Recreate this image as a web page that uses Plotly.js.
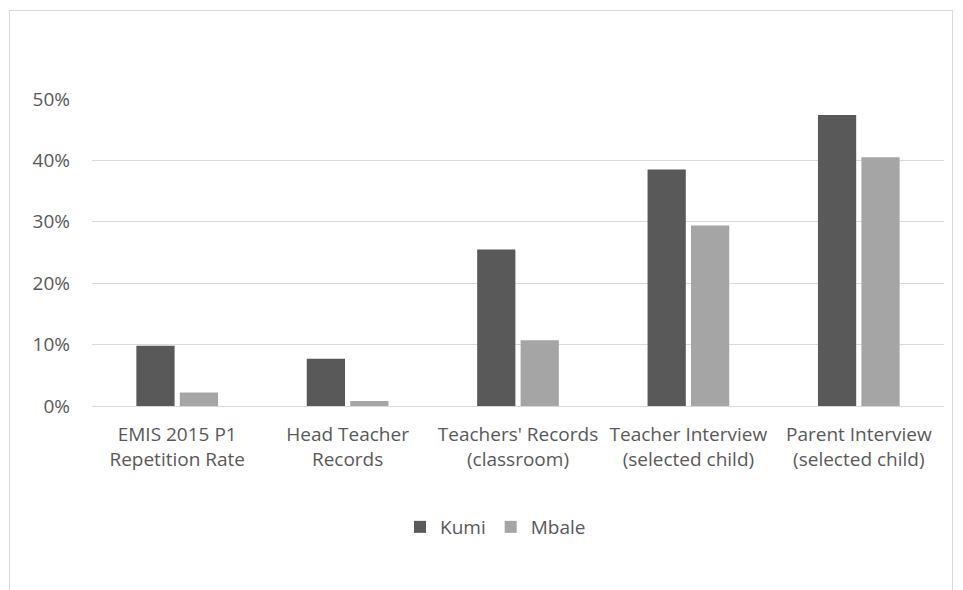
<!DOCTYPE html>
<html>
<head>
<meta charset="utf-8">
<script src="https://cdn.plot.ly/plotly-3.0.1.min.js"></script>
<style>
html,body{margin:0;padding:0;background:#fff;}
#chart{position:absolute;left:0;top:0;width:963px;height:590px;}
#frame{position:absolute;left:9px;top:10px;width:942px;height:600px;border:1px solid #d9d9d9;pointer-events:none;}
</style>
</head>
<body>
<div id="chart"></div>
<div id="frame"></div>
<script>
var categories = [
  "EMIS 2015 P1<br>Repetition Rate",
  "Head Teacher<br>Records",
  "Teachers' Records<br>(classroom)",
  "Teacher Interview<br>(selected child)",
  "Parent Interview<br>(selected child)"
];
var kumi = [0.098, 0.077, 0.255, 0.385, 0.474];
var mbale = [0.022, 0.008, 0.107, 0.294, 0.405];
var tickVals = [0, 0.1, 0.2, 0.3, 0.4, 0.5];
var tickText = ["0%", "10%", "20%", "30%", "40%", "50%"];

var font = "'Open Sans', Lato, sans-serif";
var traces = [
  {type: "bar", name: "Kumi", x: categories, y: kumi, marker: {color: "#595959"}, hoverinfo: "none"},
  {type: "bar", name: "Mbale", x: categories, y: mbale, marker: {color: "#a5a5a5"}, hoverinfo: "none"}
];
var layout = {
  width: 963, height: 590,
  margin: {l: 92, r: 19, t: 99, b: 184},
  paper_bgcolor: "rgba(0,0,0,0)",
  plot_bgcolor: "rgba(0,0,0,0)",
  font: {family: font, size: 19, color: "#595959"},
  barmode: "group",
  bargap: 0.49,
  bargroupgap: 0.12,
  showlegend: true,
  legend: {orientation: "h", x: 400/963, xref: "container", xanchor: "left", y: 1 - 527/590, yref: "container", yanchor: "middle", font: {size: 19, color: "#595959"}, itemwidth: 30, traceorder: "normal", bgcolor: "rgba(0,0,0,0)"},
  xaxis: {type: "category", tickvals: categories, ticks: "", showline: false, showgrid: false, ticklabelstandoff: 15, tickfont: {size: 19, color: "#595959"}},
  yaxis: {range: [0, 0.5], tickvals: tickVals, ticktext: tickText, showgrid: true, gridcolor: "#d9d9d9", gridwidth: 1, zeroline: true, zerolinecolor: "#d9d9d9", zerolinewidth: 1, showline: false, ticks: "", ticklabelstandoff: 21, tickfont: {size: 19, color: "#595959"}}
};
Plotly.newPlot("chart", traces, layout, {displayModeBar: false, staticPlot: true});
</script>
</body>
</html>
